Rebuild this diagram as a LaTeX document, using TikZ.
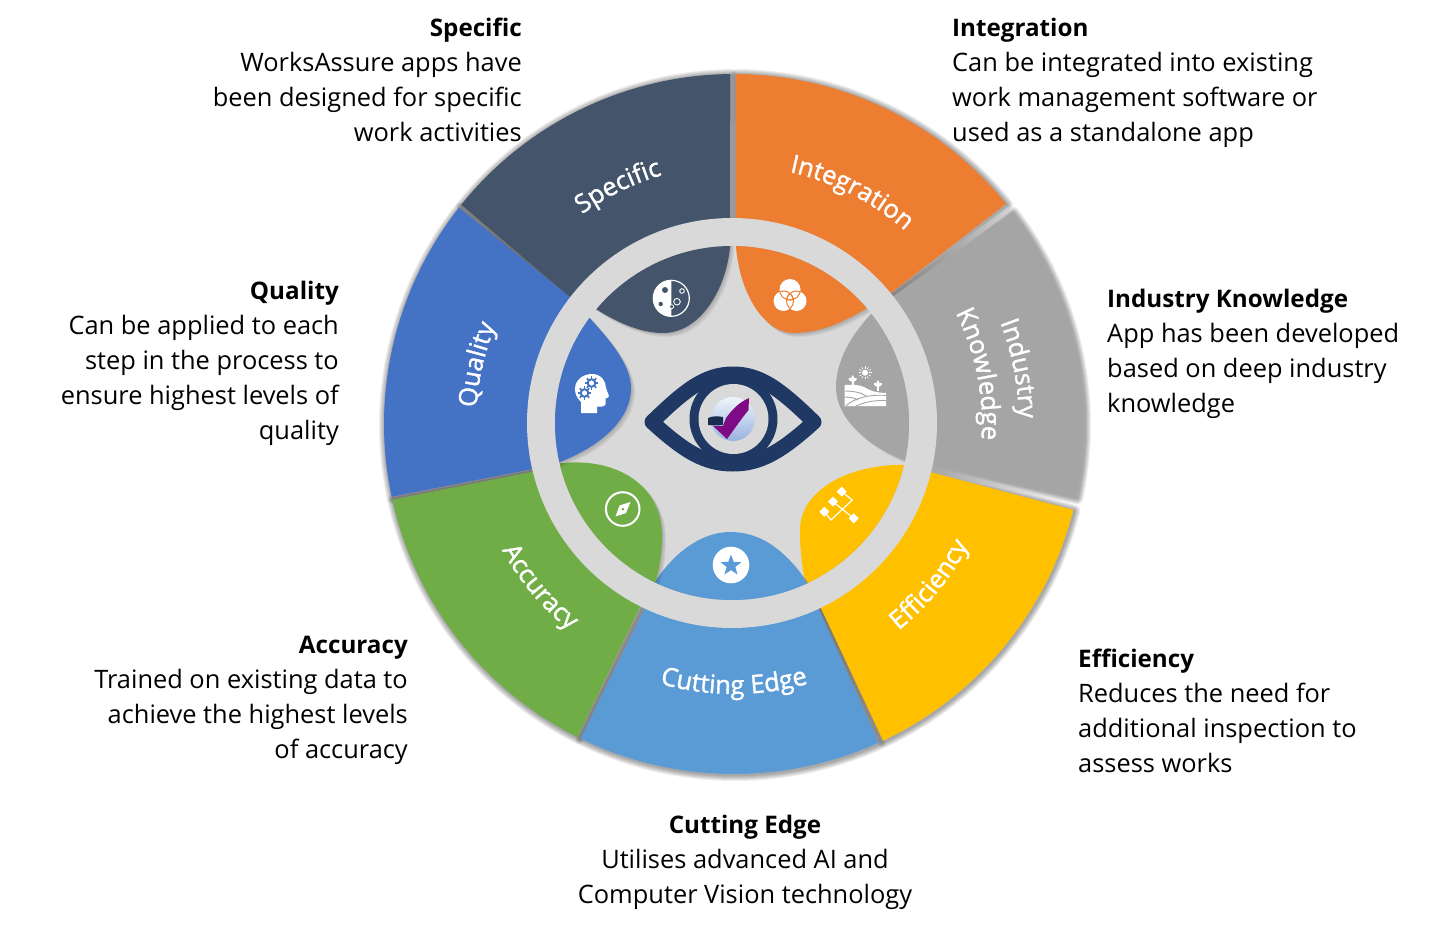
\documentclass[tikz,border=0pt]{standalone}
\usepackage{fontspec}
\setmainfont{Open Sans}
\newfontfamily\wedgefont[FakeBold=1.4]{Open Sans}
\usetikzlibrary{shapes.geometric,decorations.text}
\definecolor{cdark}{HTML}{44546A}
\definecolor{corange}{HTML}{ED7D31}
\definecolor{cgray}{HTML}{A5A5A5}
\definecolor{cyellow}{HTML}{FFC000}
\definecolor{cblue}{HTML}{5B9BD5}
\definecolor{cgreen}{HTML}{70AD47}
\definecolor{croyal}{HTML}{4472C4}
\definecolor{cring}{HTML}{D9D9D9}
\definecolor{cnavy}{HTML}{1F3864}
\definecolor{cpurple}{HTML}{7F0A85}
\newcommand\hd[1]{{\fontsize{24.2}{35}\selectfont\bfseries #1}}
\tikzset{
  blurb/.style={inner sep=0pt,font=\fontsize{25.4}{35}\selectfont},
  softshade/.style={black,opacity=.05}
}
\newcommand\wedgeglow[4]{%
  \foreach \w in {2,4,6,8,10,12}{
    \draw[black,draw opacity=.065,line width=\w pt,line join=round,shift={(1,1)}] plot[domain=#1:#2,samples=60] ({734+350*cos(\x)},{424-350*sin(\x)})
      -- ({734+190*cos(#3)},{424-190*sin(#3)}) -- ({734+190*cos(#4)},{424-190*sin(#4)}) -- cycle;
  }
}
\newcommand\wedgeshape[5]{%
  \fill[#1] plot[domain=#2:#3,samples=60] ({734+350*cos(\x)},{424-350*sin(\x)})
      -- ({734+190*cos(#4)},{424-190*sin(#4)}) -- ({734+190*cos(#5)},{424-190*sin(#5)}) -- cycle;
}
\newcommand\petalshape[2]{%
  \begin{scope}
    \clip (732,423) circle [radius=177];
    \foreach \o in {1,2,3,4}{ \fill[softshade,shift={(\o,\o)}] #2; }
    \fill[#1] #2;
  \end{scope}
}
\newcommand\arclabel[4]{%
  \path[decorate,decoration={text along path,text align=center,
    text={|\wedgefont\fontsize{25.5}{30}\selectfont\color{white}|#4}}]
    plot[domain=#2:#3,samples=60] ({734+#1*cos(\x)},{424-#1*sin(\x)});
}
\newcommand\gearicon[2]{%
  \foreach \a in {0,45,...,315}{
    \draw[croyal,line width=1.7pt] ({#1+3*cos(\a)},{#2+3*sin(\a)}) -- ({#1+6.6*cos(\a)},{#2+6.6*sin(\a)});
  }
  \draw[croyal,line width=2pt,fill=white] (#1,#2) circle [radius=3.8];
}
\newcommand\farmtree[2]{%
  \fill[white] ({#1-.9},{#2+7}) rectangle ({#1+.9},#2);
  \fill[white] (#1,{#2+3}) .. controls ({#1-5},{#2+2}) and ({#1-4},{#2-1}) .. ({#1-4},{#2-1}) .. controls ({#1-2},{#2-1}) and ({#1-1},{#2-1}) .. (#1,{#2+.5})
     .. controls ({#1+1},{#2-1}) and ({#1+2},{#2-1}) .. ({#1+4},{#2-1}) .. controls ({#1+4},{#2-1}) and ({#1+5},{#2+2}) .. (#1,{#2+3}) -- cycle;
  \fill[white] (#1,{#2-4}) -- ({#1+1.7},{#2-1}) -- (#1,{#2+1}) -- ({#1-1.7},{#2-1}) -- cycle;
}
\begin{document}
\begin{tikzpicture}[x=1pt,y=-1pt]
\path[use as bounding box,fill=white] (0,0) rectangle (1446,929);
% shadows of the outer sectors
\wedgeglow{90.6}{141.2}{142.5}{91.2}
\wedgeglow{39}{89.7}{89.4}{40}
\wedgeglow{-12.1}{37.3}{39}{-11.7}
\wedgeglow{-64.8}{-14.2}{-13.7}{-64.7}
\wedgeglow{-116}{-65.6}{-65.4}{-115.8}
\wedgeglow{-167.5}{-116.6}{-117.3}{-166.5}
\wedgeglow{-218.2}{-168}{-167.3}{-217.6}
% outer sectors
\wedgeshape{cdark}{90.6}{141.2}{142.5}{91.2}
\wedgeshape{corange}{39}{89.7}{89.4}{40}
\wedgeshape{cgray}{-12.1}{37.3}{39}{-11.7}
\wedgeshape{cyellow}{-64.8}{-14.2}{-13.7}{-64.7}
\wedgeshape{cblue}{-116}{-65.6}{-65.4}{-115.8}
\wedgeshape{cgreen}{-167.5}{-116.6}{-117.3}{-166.5}
\wedgeshape{croyal}{-218.2}{-168}{-167.3}{-217.6}
% ring and hub
\fill[cring] (732,423) circle [radius=205];
% petals
\petalshape{cdark}{(730,230) -- (730,247) .. controls (726,290) and (700,333) .. (663,333) .. controls (640,333) and (615,322) .. (590,305) -- (600,230) -- cycle}
\petalshape{corange}{(736,230) -- (736,247) .. controls (740,295) and (765,333) .. (793,333) .. controls (820,333) and (845,322) .. (870,306) -- (860,230) -- cycle}
\petalshape{cgray}{(875,310) .. controls (850,335) and (836,362) .. (836,387) .. controls (836,420) and (870,448) .. (910,462) -- (930,400) -- (920,320) -- cycle}
\petalshape{cyellow}{(912,465) .. controls (850,462) and (800,490) .. (800,530) .. controls (800,550) and (802,568) .. (806,586) -- (860,600) -- (930,520) -- cycle}
\petalshape{cblue}{(650,590) .. controls (670,555) and (700,532) .. (730,532) .. controls (765,532) and (790,555) .. (812,590) -- (800,620) -- (660,620) -- cycle}
\petalshape{cgreen}{(555,464) .. controls (615,455) and (662,485) .. (662,535) .. controls (662,552) and (660,568) .. (654,587) -- (600,600) -- (540,520) -- cycle}
\petalshape{croyal}{(587,315) .. controls (610,340) and (631,365) .. (631,388) .. controls (631,420) and (600,448) .. (552,465) -- (535,420) -- (550,340) -- cycle}
% curved labels
\arclabel{259}{146}{86}{Specific}
\arclabel{258}{93}{33}{Integration}
\arclabel{258}{197}{137}{Quality}
\arclabel{270}{-125}{-55}{Cutting Edge}
\arclabel{264}{-175}{-105}{Accuracy}
\arclabel{264}{-74.4}{-4.4}{Efficiency}
\arclabel{285}{41}{-19}{Industry}
\arclabel{248}{45.5}{-22.5}{Knowledge}
% eye
\draw[cnavy,line width=15pt,line join=round,fill=cring] (652,422) .. controls (685,390) and (705,374) .. (733,374) .. controls (761,374) and (781,390) .. (814,422) .. controls (781,452) and (760,464) .. (733,464) .. controls (705,464) and (685,452) .. (652,422) -- cycle;
\fill[cnavy] (733.5,419) circle [radius=44];
\fill[cring] (733.5,419) circle [radius=35];
\shade[top color=white!90!cblue,bottom color=croyal!55!white] (733,419) circle [radius=22];
\fill[cpurple] (749,398) .. controls (738,403) and (732,410) .. (726,418) -- (723,426) -- (713,426) -- (727,439) .. controls (735,428) and (742,418) .. (748.5,410) -- cycle;
\fill[cnavy!80!black] (708,418) .. controls (712,416) and (718,416) .. (723,417) -- (723,425) .. controls (718,425.5) and (713,425.5) .. (708,425) -- cycle;
% moon icon
\begin{scope}
  \clip (653,280) rectangle (671.3,317);
  \fill[white] (671.3,298.3) circle [radius=18.3];
\end{scope}
\draw[white,line width=1.2pt] (671.3,298.3) circle [radius=18];
\fill[cdark] (665,290) circle [radius=3];
\fill[cdark] (660.7,304) circle [radius=2.2];
\draw[white,line width=.9pt] (677,301.7) circle [radius=3.3];
\draw[white,line width=.9pt] (682,291) circle [radius=2.3];
\draw[white,line width=.7pt,fill=cdark] (671.7,306.7) circle [radius=2];
% venn icon
\fill[white] (790,289.5) circle [radius=10.5] (783.5,301) circle [radius=10] (796.5,301) circle [radius=10];
\begin{scope}\clip (790,289.5) circle [radius=10.5];
  \draw[corange,line width=1pt] (783.5,301) circle [radius=10] (796.5,301) circle [radius=10];
\end{scope}
\begin{scope}\clip (783.5,301) circle [radius=10];
  \draw[corange,line width=1pt] (790,289.5) circle [radius=10.5] (796.5,301) circle [radius=10];
\end{scope}
\begin{scope}\clip (796.5,301) circle [radius=10];
  \draw[corange,line width=1pt] (790,289.5) circle [radius=10.5] (783.5,301) circle [radius=10];
\end{scope}
% head icon
\fill[white] (581,413) -- (581,402) .. controls (577,398) and (575,394) .. (575,389) .. controls (575,380) and (583,374) .. (592,374) .. controls (601,374) and (606,381) .. (606,388) -- (609,396) .. controls (609,397.5) and (607,398) .. (605.5,398.5) -- (605.5,404) .. controls (605,406.5) and (602,407) .. (597,406.5) -- (597,413) -- cycle;
\gearicon{591.5}{383}
\gearicon{584.5}{393}
% farm icon
\fill[white] (865,372.7) circle [radius=3];
\foreach \a in {0,30,...,330}{ \draw[white,line width=.6pt] ({865+4.2*cos(\a)},{372.7+4.2*sin(\a)}) -- ({865+6.5*cos(\a)},{372.7+6.5*sin(\a)}); }
\farmtree{852.7}{379}
\farmtree{878}{384}
\fill[white] (844.5,385) .. controls (853,384.5) and (858,384.5) .. (864,387) .. controls (870,391) and (878,393) .. (886,393) -- (886,406) -- (844.5,406) -- cycle;
\draw[cgray,line width=.9pt] (846,405.5) .. controls (855,398) and (870,394) .. (886,395.5) (856,406) .. controls (865,402) and (875,400) .. (886,400.5) (844.5,391) .. controls (855,391) and (862,393) .. (867,396.5) (844.5,397) .. controls (850,397) and (855,398) .. (858,400);
% flow icon
\draw[white,line width=1.2pt] (841.7,491.7) -- (852.3,500) -- (831,520) -- (824.3,511.7) (833,501.7) -- (853.7,518.3);
\foreach \px/\py in {841.7/491.7,833/501.7,824.3/511.7,853.7/518.3}{
  \fill[white] (\px,{\py-5}) -- ({\px+5},\py) -- (\px,{\py+5}) -- ({\px-5},\py) -- cycle;
}
% star icon
\fill[white] (731,565) circle [radius=18.3];
\node[star,star points=5,star point ratio=2.4,fill=cblue,inner sep=0pt,minimum size=22pt] (staricon) at (731,565.5) {};
% compass icon
\draw[white,line width=2pt] (622.7,509) circle [radius=16.8];
\fill[white] (630.5,502) -- (626,513) -- (615.5,516.5) -- (619.5,505.5) -- cycle;
\fill[cgreen] (622.9,509.2) circle [radius=1.4];
% description blocks
\node[blurb,anchor=north east,align=right] (tSpecific) at (522,18) {\hd{Specific}\\WorksAssure apps have\\been designed for specific\\work activities};
\node[blurb,anchor=north west,align=left] (tIntegration) at (952,18) {\hd{Integration}\\Can be integrated into existing\\work management software or\\used as a standalone app};
\node[blurb,anchor=north west,align=left] (tIndustry) at (1107,289) {\hd{Industry Knowledge}\\App has been developed\\based on deep industry\\knowledge};
\node[blurb,anchor=north east,align=right] (tQuality) at (339,281) {\hd{Quality}\\Can be applied to each\\step in the process to\\ensure highest levels of\\quality};
\node[blurb,anchor=north east,align=right] (tAccuracy) at (408,635.5) {\hd{Accuracy}\\Trained on existing data to\\achieve the highest levels\\of accuracy};
\node[blurb,anchor=north west,align=left] (tEfficiency) at (1078,649) {\hd{Efficiency}\\Reduces the need for\\additional inspection to\\assess works};
\node[blurb,anchor=north,align=center] (tCutting) at (745,815) {\hd{Cutting Edge}\\Utilises advanced AI and\\Computer Vision technology};
\end{tikzpicture}
\end{document}
